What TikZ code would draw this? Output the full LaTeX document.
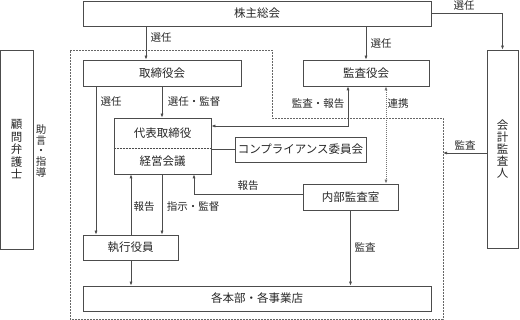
\documentclass[tikz,border=0pt]{standalone}
\usepackage{fontspec}
\setmainfont{Noto Sans CJK JP}
\usetikzlibrary{arrows.meta}
\begin{document}
\begin{tikzpicture}[x=1pt,y=-1pt,
  box/.style={draw=black!70, line width=0.7pt, inner sep=0pt, text=black!85,
    font=\fontsize{11.5}{13}\selectfont},
  lab/.style={inner sep=0pt, text=black!85, font=\fontsize{10.5}{12}\selectfont},
  ln/.style={draw=black!70, line width=0.7pt},
  arr/.style={ln, -{Latex[length=4pt,width=3pt]}},
  darr/.style={ln, {Latex[length=4pt,width=3pt]}-{Latex[length=4pt,width=3pt]}},
  dotarr/.style={draw=black!55, line width=0.7pt, dash pattern=on 1pt off 1pt,
    {Latex[length=4pt,width=3pt]}-{Latex[length=4pt,width=3pt]}},
  region/.style={draw=black!60, line width=0.7pt, dash pattern=on 2pt off 1pt}]
\useasboundingbox (0,0) rectangle (520,320);
% outer dashed region
\draw[region] (70,50) -- (272,50) -- (272,118) -- (443,118) -- (443,319) -- (70,319) -- cycle;
% boxes
\node[box, minimum width=348pt, minimum height=25pt] (sh) at (257,13.5) {株主総会};
\node[box, minimum width=158pt, minimum height=26pt] (tb) at (162,73) {取締役会};
\node[box, minimum width=126pt, minimum height=26pt] (ka) at (366,73) {監査役会};
\node[box, minimum width=97pt, minimum height=56pt] (rep) at (162.5,146) {};
\node[lab, font=\fontsize{11.5}{13}\selectfont] (rep1) at (162.5,133) {代表取締役};
\node[lab, font=\fontsize{11.5}{13}\selectfont] (rep2) at (162.5,161) {経営会議};
\draw[ln, dashed, dash pattern=on 2pt off 1pt] (rep.west |- 0,148) -- (rep.east |- 0,148);
\node[box, minimum width=131pt, minimum height=25pt] (cp) at (300.5,149.5) {コンプライアンス委員会};
\node[box, minimum width=95pt, minimum height=26pt] (na) at (350.5,197) {内部監査室};
\node[box, minimum width=95pt, minimum height=25pt] (sy) at (130.5,247.5) {執行役員};
\node[box, minimum width=348pt, minimum height=25pt] (hb) at (257,298.5) {各本部・各事業店};
\node[box, minimum width=33pt, minimum height=199pt, align=center,
  font=\fontsize{11.5}{12.5}\selectfont] (kb) at (16.5,149.5) {顧\\問\\弁\\護\\士};
\node[box, minimum width=31pt, minimum height=198pt, align=center,
  font=\fontsize{11.5}{12}\selectfont] (kk) at (502.5,149) {会\\計\\監\\査\\人};
\node[lab, align=center, font=\fontsize{10.5}{10.7}\selectfont] (jo) at (41,151) {助\\言\\・\\指\\導};
% connectors
\draw[arr] (sh.south -| 146,0) -- (tb.north -| 146,0);
\node[lab] (l1) at (161,38) {選任};
\draw[arr] (sh.south -| ka.north) -- (ka.north);
\node[lab] (l2) at (381,44) {選任};
\draw[arr] (sh.east) -| (kk.north);
\node[lab] (l3) at (464,6) {選任};
\draw[arr] (tb.south -| 96,0) -- (sy.north -| 96,0);
\node[lab] (l4) at (111,102) {選任};
\draw[arr] (tb.south) -- (rep.north -| tb.south);
\node[lab] (l5) at (194,102) {選任・監督};
\draw[darr] (rep.east |- 0,126) -| (ka.south -| 348,0);
\node[lab] (l6) at (318,104) {監査・報告};
\draw[dotarr] (ka.south -| 386,0) -- (na.north -| 386,0);
\node[lab] (l7) at (398,104) {連携};
\coordinate (dz) at (443,153);
\draw[arr] (kk.west |- dz) -- (dz);
\node[lab] (l8) at (465,145) {監査};
\draw[ln] (rep.east |- cp.west) -- (cp.west);
\draw[arr] (na.west |- 0,194) -| (rep.south -| 194,0);
\node[lab] (l9) at (248,186) {報告};
\draw[arr] (sy.north -| 131,0) -- (rep.south -| 131,0);
\node[lab] (l10) at (144,207) {報告};
\draw[arr] (rep.south -| 162,0) -- (sy.north -| 162,0);
\node[lab] (l11) at (193,207) {指示・監督};
\draw[arr] (sy.south -| 131,0) -- (hb.north -| 131,0);
\draw[arr] (na.south) -- (hb.north -| na.south);
\node[lab] (l12) at (365,247) {監査};
\end{tikzpicture}
\end{document}
